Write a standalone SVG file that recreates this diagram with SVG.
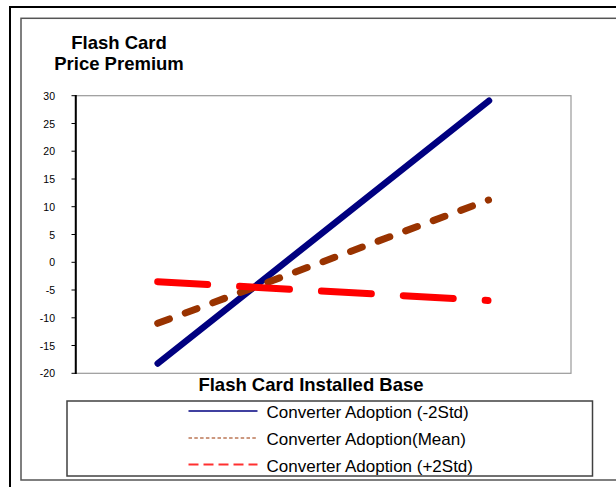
<svg xmlns="http://www.w3.org/2000/svg" width="616" height="487" viewBox="0 0 616 487">
<style>
.title{font-family:"Liberation Sans",Arial,sans-serif;font-weight:bold;font-size:18.5px;fill:#000}
.tick{font-family:"Liberation Sans",Arial,sans-serif;font-size:10.5px;fill:#000;text-anchor:end}
.leg{font-family:"Liberation Sans",Arial,sans-serif;font-size:17px;fill:#000}
</style>
<rect width="616" height="487" fill="#fff"/>
<g id="frame">
<rect x="10" y="7" width="640" height="500" fill="none" stroke="#000" stroke-width="2"/>
<rect x="21" y="18.3" width="640" height="461.7" fill="none" stroke="#555" stroke-width="1.5"/>
</g>
<g id="title">
<text class="title" x="119" y="49" text-anchor="middle">Flash Card</text>
<text class="title" x="119" y="70" text-anchor="middle">Price Premium</text>
</g>
<g id="plot">
<rect x="75.5" y="95.7" width="495.5" height="277.6" fill="#fff" stroke="#999" stroke-width="1.2"/>
<line x1="75.8" y1="95" x2="75.8" y2="374" stroke="#000" stroke-width="2"/>
<g stroke="#000" stroke-width="1">
<line x1="71.5" y1="95.7" x2="76" y2="95.7"/>
<line x1="71.5" y1="123.5" x2="76" y2="123.5"/>
<line x1="71.5" y1="151.2" x2="76" y2="151.2"/>
<line x1="71.5" y1="179" x2="76" y2="179"/>
<line x1="71.5" y1="206.7" x2="76" y2="206.7"/>
<line x1="71.5" y1="234.5" x2="76" y2="234.5"/>
<line x1="71.5" y1="262.3" x2="76" y2="262.3"/>
<line x1="71.5" y1="290" x2="76" y2="290"/>
<line x1="71.5" y1="317.8" x2="76" y2="317.8"/>
<line x1="71.5" y1="345.5" x2="76" y2="345.5"/>
<line x1="71.5" y1="373.3" x2="76" y2="373.3"/>
</g>
<g id="yaxis-labels">
<text class="tick" x="55" y="99.7">30</text>
<text class="tick" x="55" y="127.5">25</text>
<text class="tick" x="55" y="155.2">20</text>
<text class="tick" x="55" y="183">15</text>
<text class="tick" x="55" y="210.7">10</text>
<text class="tick" x="55" y="238.5">5</text>
<text class="tick" x="55" y="266.3">0</text>
<text class="tick" x="55" y="294">-5</text>
<text class="tick" x="55" y="321.8">-10</text>
<text class="tick" x="55" y="349.5">-15</text>
<text class="tick" x="55" y="377.3">-20</text>
</g>
</g>
<g id="series" fill="none" stroke-linecap="round">
<line id="s-minus2std" x1="157.7" y1="363.5" x2="489" y2="100.7" stroke="#000080" stroke-width="6.5"/>
<line id="s-mean" x1="157.7" y1="323.3" x2="488.5" y2="200" stroke="#993300" stroke-width="7" stroke-dasharray="12.5 16.9"/>
<line id="s-plus2std" x1="157.7" y1="281.7" x2="488" y2="300.5" stroke="#FF0000" stroke-width="7" stroke-dasharray="50 32"/>
</g>
<text class="title" x="311" y="391" text-anchor="middle">Flash Card Installed Base</text>
<g id="legend">
<rect x="67" y="401" width="525.5" height="75" fill="#fff" stroke="#404040" stroke-width="1.5"/>
<line x1="188.5" y1="411" x2="257.5" y2="411" stroke="#000080" stroke-width="1.5"/>
<line x1="188.5" y1="438" x2="257.5" y2="438" stroke="#993300" stroke-width="1" stroke-dasharray="3.5 2.3"/>
<line x1="188.5" y1="464.5" x2="257.5" y2="464.5" stroke="#FF3030" stroke-width="2" stroke-dasharray="10 5"/>
<text class="leg" x="266.5" y="418">Converter Adoption (-2Std)</text>
<text class="leg" x="266.5" y="445">Converter Adoption(Mean)</text>
<text class="leg" x="266.5" y="471.5">Converter Adoption (+2Std)</text>
</g>
</svg>
